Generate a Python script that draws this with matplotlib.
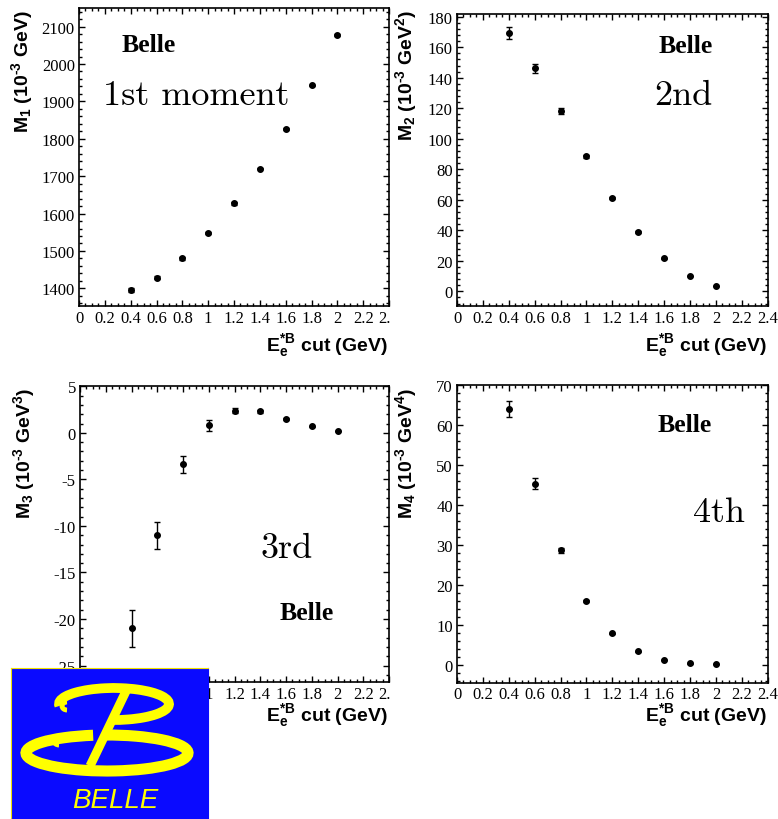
import numpy as np
import matplotlib.pyplot as plt
from matplotlib.patches import Arc
from matplotlib.lines import Line2D
from matplotlib.ticker import MultipleLocator, FuncFormatter
from matplotlib.transforms import Bbox, TransformedBbox

W, H = 778, 820

# Lepton energy cuts (GeV)
cuts = [0.4, 0.6, 0.8, 1.0, 1.2, 1.4, 1.6, 1.8, 2.0]

# Moments
m1 = [1395, 1428, 1480, 1548, 1627, 1720, 1826, 1943, 2078]
m1_err = [5, 4, 3, 3, 3, 2, 2, 2, 2]
m2 = [169.5, 146.3, 118.2, 88.5, 61.3, 39.0, 21.6, 10.0, 3.3]
m2_err = [4.0, 3.0, 2.0, 1.2, 0.8, 0.5, 0.3, 0.2, 0.1]
m3 = [-21.0, -11.0, -3.4, 0.8, 2.4, 2.3, 1.5, 0.7, 0.2]
m3_err = [2.0, 1.45, 0.9, 0.55, 0.25, 0.15, 0.1, 0.05, 0.03]
m4 = [64.0, 45.3, 28.6, 15.9, 7.8, 3.3, 1.1, 0.3, 0.1]
m4_err = [2.0, 1.3, 0.6, 0.3, 0.2, 0.1, 0.05, 0.02, 0.01]

ylabels = [r'M$_{1}$ (10$^{\text{-3}}$ GeV)', r'M$_{2}$ (10$^{\text{-3}}$ GeV$^{2}$)',
           r'M$_{3}$ (10$^{\text{-3}}$ GeV$^{3}$)', r'M$_{4}$ (10$^{\text{-3}}$ GeV$^{4}$)']
xlabel = r'E$_{e}^{*B}$ cut (GeV)'
moment_names = ['1st moment', '2nd', '3rd', '4th']


def fx(x):
    return x / W


def fy(y):
    return 1 - y / H


def rect(left, top, right, bottom):
    return [left / W, 1 - bottom / H, (right - left) / W, (bottom - top) / H]


def main():
    plt.rcParams['font.family'] = 'Liberation Serif'
    plt.rcParams['axes.unicode_minus'] = False
    plt.rcParams['mathtext.fontset'] = 'custom'
    plt.rcParams['mathtext.rm'] = 'Liberation Sans:bold'
    plt.rcParams['mathtext.it'] = 'Liberation Sans:bold'
    plt.rcParams['mathtext.bf'] = 'Liberation Sans:bold'

    fig = plt.figure(figsize=(W / 100, H / 100), dpi=100)

    # pad layout: axes box, y range, major/minor y step
    pads = [
        dict(box=(79, 9.3, 389, 307.3), ylim=(1352, 2149), maj=100, mnr=20,
             vals=m1, errs=m1_err, clip=True),
        dict(box=(457, 15.3, 767.7, 307.3), ylim=(-9.8, 181.6), maj=20, mnr=4,
             vals=m2, errs=m2_err, clip=False),
        dict(box=(80, 387.3, 389, 683.3), ylim=(-26.8, 5), maj=5, mnr=1,
             vals=m3, errs=m3_err, clip=True),
        dict(box=(457, 386, 767.7, 684), ylim=(-4.6, 70), maj=10, mnr=2,
             vals=m4, errs=m4_err, clip=False),
    ]
    clip_bb = TransformedBbox(Bbox.from_extents(0, 0, 390 / W, 1), fig.transFigure)

    for p in pads:
        ax = fig.add_axes(rect(*p['box']))
        ax.errorbar(cuts, p['vals'], yerr=p['errs'], fmt='o', color='black',
                    ms=4, elinewidth=1, capsize=2.5, capthick=1)
        ax.set_xlim(0, 2.4)
        ax.set_ylim(*p['ylim'])
        ax.set_xticks(np.round(np.arange(0, 2.41, 0.2), 1))
        ax.xaxis.set_major_formatter(FuncFormatter(lambda v, pos: f'{v:g}'))
        ax.xaxis.set_minor_locator(MultipleLocator(0.05))
        ax.yaxis.set_major_locator(MultipleLocator(p['maj']))
        ax.yaxis.set_minor_locator(MultipleLocator(p['mnr']))
        ax.yaxis.set_major_formatter(FuncFormatter(lambda v, pos: f'{v:g}'))
        ax.tick_params(which='both', direction='in', top=True, right=True,
                       width=1, labelsize=12)
        ax.tick_params(which='major', length=4.3)
        ax.tick_params(which='minor', length=2.2)
        ax.tick_params(axis='x', pad=2.5)
        ax.tick_params(axis='y', pad=3)
        for s in ax.spines.values():
            s.set_linewidth(1.2)
        if p['clip']:
            for lbl in ax.get_xticklabels():
                lbl.set_clip_box(clip_bb)
                lbl.set_clip_on(True)

    # axis titles
    ylab_pos = [(22, 10), (406, 10), (24, 388), (406, 388)]
    for (x, y), txt in zip(ylab_pos, ylabels):
        fig.text(fx(x), fy(y), txt, family='Liberation Sans', weight='bold',
                 fontsize=14, rotation=90, ha='center', va='top')
    for x, y in [(388, 351), (767, 351), (388, 721), (767, 721)]:
        fig.text(fx(x), fy(y), xlabel, family='Liberation Sans', weight='bold',
                 fontsize=14, ha='right', va='baseline')

    # Belle tags and moment names
    belle = [(122, 52.5, 'left'), (713, 53, 'right'), (280, 620, 'left'), (658, 431.7, 'left')]
    for x, y, ha in belle:
        fig.text(fx(x), fy(y), 'Belle', family='Liberation Serif', weight='bold',
                 fontsize=18.5, ha=ha, va='baseline')
    names = [(103, 105, 'left'), (713, 105, 'right'), (260, 558, 'left'), (745, 522, 'right')]
    for (x, y, ha), txt in zip(names, moment_names):
        fig.text(fx(x), fy(y), txt, family='cmr10', fontsize=26, ha=ha, va='baseline')

    # Belle logo in the lower left corner
    lg = fig.add_axes(rect(11, 669, 208, 820))
    lg.set_xlim(11, 208)
    lg.set_ylim(0, 151)
    lg.set_facecolor('#0a0aff')
    lg.set_xticks([])
    lg.set_yticks([])
    for s in lg.spines.values():
        s.set_color('#0a0aff')
    lg.spines['top'].set_color('#f0e000')
    lg.spines['left'].set_color('#f0e000')
    yel = '#ffff00'
    lg.add_patch(Arc((114, 820 - 705), 110, 32, theta1=262, theta2=182,
                     lw=7, color=yel))
    lg.add_patch(Arc((107, 820 - 754), 162, 36, theta1=128, theta2=96,
                     lw=8, color=yel))
    lg.add_line(Line2D([128, 90], [820 - 688, 820 - 767], lw=6.5, color=yel,
                       solid_capstyle='butt'))
    lg.add_patch(Arc((67, 820 - 707), 10, 8, theta1=90, theta2=270, lw=3.5, color=yel))
    lg.add_patch(Arc((59, 820 - 742), 10, 8, theta1=90, theta2=270, lw=3.5, color=yel))
    lg.text(115, 820 - 808, 'BELLE', family='Liberation Sans', style='italic',
            fontsize=20, color=yel, ha='center', va='baseline')

    fig.savefig('out.png', dpi=100)


if __name__ == "__main__":
    main()
